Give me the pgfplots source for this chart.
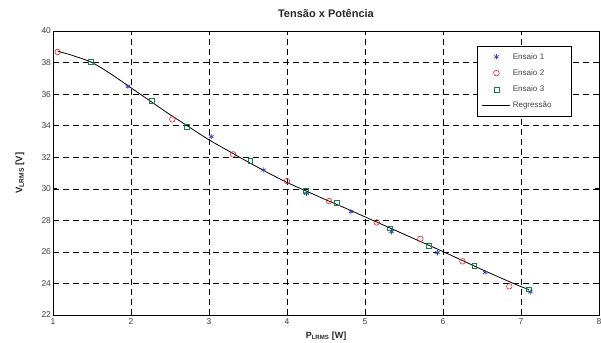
\documentclass[border=0pt]{standalone}
\usepackage{fontspec}
\setmainfont{Liberation Sans}
\usepackage{pgfplots}
\pgfplotsset{compat=1.18}
\definecolor{mblue}{RGB}{40,70,190}
\definecolor{mred}{RGB}{240,30,30}
\definecolor{mgreen}{RGB}{20,130,60}
\begin{document}
\begin{tikzpicture}
\begin{axis}[
  at={(0pt,0pt)}, anchor=south west,
  scale only axis, width=546pt, height=284pt,
  xmin=1, xmax=8, ymin=22, ymax=40,
  xtick={1,2,...,8}, ytick={22,24,...,40},
  tick align=inside, major tick length=4pt,
  xtick pos=both, ytick pos=both,
  grid=major,
  major grid style={black, line width=0.5pt, dash pattern=on 6pt off 4pt},
  axis line style={black, line width=0.8pt},
  tick style={black, line width=0.6pt},
  /pgf/number format/assume math mode=true,
  ticklabel style={font=\fontsize{8.5}{9}\selectfont, text=black!75},
  xticklabel style={yshift=0pt},
  yticklabel style={xshift=1.5pt},
  title={\textbf{Tensão x Potência}},
  title style={at={(rel axis cs:0.5,1)}, anchor=base, yshift=7.7pt, font=\fontsize{11}{12}\selectfont, text=black!85},
  xlabel={\textbf{P\textsubscript{LRMS} [W]}},
  xlabel style={at={(rel axis cs:0.5,0)}, anchor=base, yshift=-23pt, font=\fontsize{9}{10}\selectfont, text=black!85},
  ylabel={\textbf{V\textsubscript{LRMS} [V]}},
  ylabel style={at={(rel axis cs:-0.046,0.5)}, anchor=south, font=\fontsize{9.5}{10}\selectfont, text=black!85},
  legend style={at={(rel axis cs:0.776,0.948)}, anchor=north west, draw=black, line width=0.6pt,
    font=\fontsize{8}{9}\selectfont, text=black!75, row sep=4.8pt, inner xsep=5pt, inner ysep=5pt,
    cells={anchor=west, text height=6pt, text depth=2pt, inner ysep=0pt, text width=51pt}},
  legend image code/.code={\draw[mark repeat=2,mark phase=2,#1] plot coordinates {(0pt,0pt) (14pt,0pt) (28pt,0pt)};},
]
\addplot[only marks, mark=asterisk, mark size=2.6pt, color=mblue, line width=0.7pt] coordinates {
(1.96,36.47) (3.03,33.30) (3.70,31.19) (4.25,29.71) (4.82,28.55) (5.34,27.28) (5.93,25.95) (6.54,24.70) (7.12,23.46)
};
\addlegendentry{Ensaio 1}
\addplot[only marks, mark=o, mark size=2.8pt, color=mred, line width=0.6pt] coordinates {
(1.06,38.67) (2.53,34.40) (3.31,32.18) (4.00,30.49) (4.54,29.22) (5.15,27.87) (5.71,26.82) (6.25,25.40) (6.85,23.82)
};
\addlegendentry{Ensaio 2}
\addplot[only marks, mark=square, mark size=2.4pt, color=mgreen, line width=0.6pt] coordinates {
(1.48,38.05) (2.27,35.56) (2.72,33.91) (3.53,31.76) (4.24,29.86) (4.64,29.10) (5.32,27.49) (5.82,26.39) (6.40,25.11) (7.10,23.63)
};
\addlegendentry{Ensaio 3}
\addplot[black, line width=0.8pt, smooth] coordinates {
(1.06,38.72) (1.25,38.45) (1.5,38.0) (1.75,37.25) (2.0,36.4) (2.25,35.55) (2.5,34.7) (2.75,33.9) (3.0,33.1) (3.25,32.4) (3.5,31.7) (3.75,31.03) (4.0,30.4) (4.25,29.85) (4.5,29.3) (4.75,28.77) (5.0,28.22) (5.25,27.67) (5.5,27.12) (5.75,26.57) (6.0,26.02) (6.25,25.45) (6.5,24.88) (6.75,24.33) (7.0,23.8) (7.1,23.62)
};
\addlegendentry{Regressão}
\end{axis}
\pgfresetboundingbox
\path[use as bounding box] (-53pt,-27pt) rectangle (548pt,315pt);
\end{tikzpicture}
\end{document}
